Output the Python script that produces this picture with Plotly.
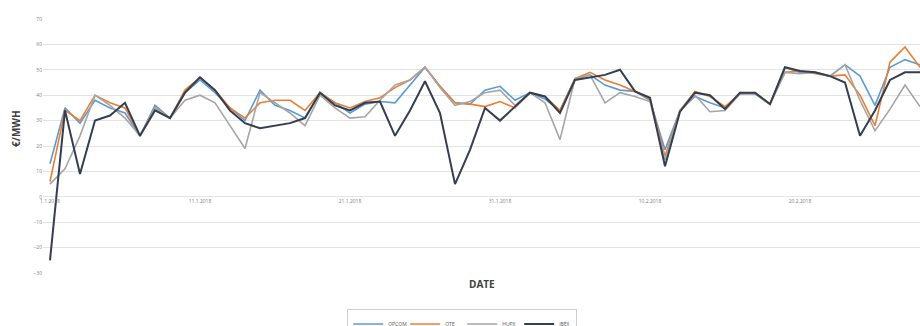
import pandas as pd
import plotly.graph_objects as go

# Daily prices, 1 Jan 2018 – 28 Feb 2018 (€/MWh)
dates = pd.date_range("2018-01-01", "2018-02-28", freq="D")

series_names = ["OPCOM", "OTE", "HUPX", "IBEX"]

opcom = [13, 35, 29, 38, 35, 33, 24, 36, 31, 41, 46, 41, 35, 30, 42, 36, 34, 31, 41, 37,
         33, 36.5, 37.5, 37, 44, 51, 43.5, 37, 36.5, 42, 43.5, 38, 41, 38.5, 34, 46.5, 48, 44, 42, 41.5,
         38, 18.5, 34, 39.5, 37, 35, 41, 40.5, 36.5, 51, 49, 49, 47.5, 52, 47.5, 36, 51, 54, 52]
ote = [6, 34, 30, 40, 37, 35, 24, 35, 31, 42, 47, 42, 35, 31, 37, 38, 38, 34, 41, 37,
       35, 37.5, 39, 43, 46, 51, 43.5, 37, 36.5, 35.5, 37.5, 35, 41, 39.5, 34, 46.5, 49, 46, 44, 41.5,
       38.5, 16, 34, 41.5, 39.5, 35.5, 40.5, 41, 36.5, 49, 49.5, 48.5, 47.5, 48, 40, 28, 53, 59, 51]
hupx = [5, 11, 24, 40, 36, 31, 24, 35, 31, 38, 40, 37, 28, 19, 41, 37, 33, 28, 40, 35,
        31, 31.5, 38, 44, 46, 51, 43, 36, 37.5, 41, 42, 36, 41, 37, 22.5, 46.5, 48, 37, 41, 39.5,
        37.5, 14.5, 34, 40, 33.5, 34, 40.5, 40.5, 36.5, 49, 48.5, 49, 47.5, 52, 38, 26, 34.5, 44, 35.5]
ibex = [-25, 34, 9, 30, 32, 37, 24, 34, 31, 41, 47, 42, 34, 29, 27, 28, 29, 31, 41, 36,
        34, 37, 37.5, 24, 34, 45.5, 33, 5, 18.5, 35, 30, 35.5, 41, 39.5, 33, 46, 47, 48, 50, 41.5,
        39, 12, 33.5, 41, 40, 34.5, 41, 41, 36.5, 51, 49.5, 49, 47.5, 45, 24, 34, 46, 49, 49]

x_tick_dates = ["2018-01-01", "2018-01-11", "2018-01-21", "2018-01-31", "2018-02-10", "2018-02-20"]
x_tick_labels = ["1.1.2018", "11.1.2018", "21.1.2018", "31.1.2018", "10.2.2018", "20.2.2018"]
y_ticks = [-30, -20, -10, 0, 10, 20, 30, 40, 50, 60, 70]

colors = ["#5B9BD5", "#ED7D31", "#A5A5A5", "#333F50"]
widths = [1.6, 1.6, 1.6, 2.0]

fig = go.Figure()
for name, values, color, w in zip(series_names, [opcom, ote, hupx, ibex], colors, widths):
    fig.add_trace(go.Scatter(
        x=dates, y=values, name=name, mode="lines",
        line=dict(color=color, width=w),
    ))

fig.update_layout(
    width=920, height=326,
    margin=dict(l=43, r=0, t=19, b=53, autoexpand=False),
    paper_bgcolor="white", plot_bgcolor="white",
    font=dict(family="Open Sans, sans-serif", color="#7F7F7F"),
    showlegend=True,
    legend=dict(
        orientation="h", x=0.478, xanchor="center", y=-0.14, yanchor="top",
        font=dict(size=5, color="#595959"),
        bordercolor="#D0D0D0", borderwidth=1,
        itemwidth=30, entrywidth=12, entrywidthmode="pixels",
        tracegroupgap=0,
    ),
    xaxis=dict(
        type="date",
        range=["2017-12-31 12:48", "2018-02-28 00:00"],
        tickvals=x_tick_dates, ticktext=x_tick_labels,
        tickfont=dict(size=5, color="#808080"),
        showgrid=False, zeroline=False, showline=False,
        anchor="free", position=0.3, ticks="",
    ),
    yaxis=dict(
        range=[-30, 70], tickvals=y_ticks,
        tickfont=dict(size=5, color="#808080"),
        showgrid=True, gridcolor="#E3E3E3", gridwidth=1,
        zeroline=False, showline=False, ticks="",
    ),
    annotations=[
        dict(text="<b>DATE</b>", xref="paper", yref="paper", x=0.5, y=-0.043,
             xanchor="center", yanchor="middle", showarrow=False,
             font=dict(size=10, color="#404040")),
        dict(text="<b>€/MWH</b>", xref="paper", yref="paper", x=-0.03, y=0.57,
             xanchor="center", yanchor="middle", showarrow=False, textangle=-90,
             font=dict(size=10, color="#404040")),
    ],
)

fig.write_html("out.html")
